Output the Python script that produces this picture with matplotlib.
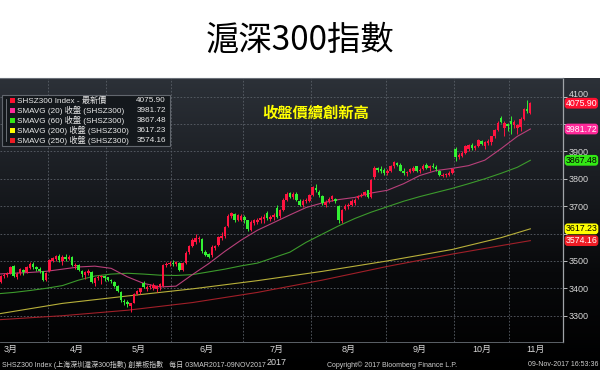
import numpy as np
import matplotlib
matplotlib.use("Agg")
import matplotlib.pyplot as plt
from matplotlib.patches import Rectangle
from matplotlib.colors import LinearSegmentedColormap
from matplotlib.transforms import ScaledTranslation

# ---------------- data ----------------
# daily OHLC, 03-Mar-2017 .. 09-Nov-2017
open_ = [
    # Mar
    3420, 3425, 3445, 3452, 3444, 3425, 3424, 3446, 3448, 3455, 3482, 3443, 3455, 3468, 3458, 3475, 3490, 3478, 3470, 3462, 3430,
    # Apr
    3462, 3500, 3508, 3518, 3500, 3515, 3506, 3515, 3482, 3485, 3464, 3450, 3456, 3460, 3420, 3436, 3440, 3445,
    # May
    3440, 3430, 3424, 3408, 3385, 3352, 3350, 3335, 3348, 3380, 3388, 3420, 3398, 3405, 3400, 3398, 3405, 3410, 3485, 3488,
    # Jun
    3494, 3490, 3492, 3468, 3492, 3532, 3555, 3570, 3580, 3580, 3532, 3525, 3520, 3548, 3560, 3585, 3590, 3628, 3665, 3672, 3650, 3650,
    # Jul
    3662, 3648, 3612, 3640, 3642, 3648, 3652, 3675, 3652, 3660, 3695, 3665, 3685, 3722, 3748, 3732, 3745, 3720, 3705, 3720, 3720,
    # Aug
    3740, 3768, 3752, 3738, 3705, 3718, 3725, 3725, 3700, 3645, 3690, 3700, 3706, 3712, 3728, 3738, 3742, 3758, 3735, 3805, 3838, 3835, 3832,
    # Sep
    3822, 3830, 3845, 3858, 3852, 3830, 3820, 3825, 3830, 3845, 3830, 3835, 3850, 3838, 3848, 3842, 3830, 3810, 3812, 3815, 3822,
    # Oct
    3910, 3880, 3885, 3895, 3908, 3925, 3912, 3918, 3938, 3918, 3930, 3935, 3955, 3978, 4022, 3985, 4000,
    # Nov
    4012, 3995, 3985, 3990, 4020, 4055, 4040,
]
high = [
    3432, 3450, 3456, 3456, 3446, 3435, 3450, 3455, 3460, 3482, 3486, 3458, 3475, 3470, 3482, 3495, 3495, 3480, 3478, 3465, 3460,
    3506, 3515, 3520, 3525, 3520, 3525, 3520, 3518, 3492, 3488, 3468, 3462, 3470, 3462, 3440, 3450, 3450, 3448,
    3442, 3435, 3428, 3412, 3390, 3362, 3358, 3348, 3382, 3395, 3402, 3425, 3412, 3415, 3418, 3412, 3420, 3488, 3495, 3500,
    3505, 3500, 3495, 3495, 3535, 3560, 3585, 3598, 3590, 3582, 3540, 3530, 3560, 3560, 3592, 3605, 3628, 3670, 3680, 3675, 3672, 3670,
    3668, 3650, 3648, 3652, 3655, 3665, 3672, 3682, 3668, 3675, 3705, 3690, 3728, 3750, 3752, 3750, 3752, 3725, 3725, 3730, 3745,
    3775, 3780, 3760, 3742, 3722, 3735, 3742, 3728, 3705, 3690, 3708, 3710, 3725, 3728, 3742, 3748, 3755, 3760, 3800, 3845, 3842, 3845, 3840,
    3835, 3850, 3865, 3862, 3856, 3838, 3830, 3840, 3845, 3848, 3838, 3855, 3856, 3852, 3858, 3852, 3832, 3822, 3822, 3828, 3840,
    3915, 3895, 3900, 3922, 3928, 3930, 3925, 3945, 3942, 3938, 3945, 3958, 3982, 4010, 4030, 4010, 4005,
    4028, 4015, 4000, 4025, 4060, 4088, 4080,
]
low = [
    3405, 3422, 3440, 3440, 3420, 3418, 3420, 3438, 3440, 3452, 3440, 3435, 3450, 3448, 3455, 3470, 3472, 3462, 3455, 3425, 3426,
    3460, 3495, 3500, 3495, 3485, 3500, 3502, 3480, 3470, 3462, 3440, 3435, 3450, 3418, 3410, 3430, 3415, 3428,
    3425, 3418, 3405, 3385, 3350, 3340, 3330, 3312, 3345, 3376, 3380, 3402, 3392, 3398, 3395, 3385, 3395, 3405, 3478, 3480,
    3482, 3482, 3462, 3465, 3490, 3525, 3550, 3562, 3568, 3530, 3518, 3510, 3515, 3540, 3555, 3578, 3582, 3625, 3655, 3642, 3645, 3645,
    3640, 3608, 3610, 3630, 3635, 3640, 3640, 3650, 3645, 3650, 3655, 3655, 3682, 3718, 3728, 3725, 3718, 3700, 3698, 3710, 3716,
    3738, 3752, 3735, 3705, 3698, 3712, 3718, 3712, 3640, 3640, 3685, 3690, 3700, 3705, 3725, 3732, 3738, 3730, 3730, 3800, 3825, 3820, 3815,
    3815, 3825, 3840, 3845, 3828, 3815, 3810, 3820, 3825, 3825, 3822, 3832, 3835, 3830, 3838, 3830, 3810, 3805, 3805, 3810, 3818,
    3865, 3872, 3878, 3890, 3902, 3905, 3905, 3915, 3922, 3910, 3922, 3925, 3950, 3975, 4002, 3955, 3975,
    3962, 3985, 3965, 3975, 4015, 4040, 4035,
]
close = [
    3427, 3446, 3453, 3447, 3426, 3426, 3446, 3449, 3457, 3478, 3445, 3454, 3472, 3460, 3479, 3489, 3478, 3469, 3463, 3430, 3456,
    3503, 3510, 3518, 3502, 3515, 3508, 3516, 3485, 3486, 3466, 3452, 3458, 3465, 3422, 3436, 3442, 3446, 3439,
    3430, 3425, 3410, 3390, 3356, 3350, 3342, 3345, 3378, 3390, 3400, 3406, 3405, 3410, 3412, 3408, 3415, 3485, 3488, 3492,
    3490, 3495, 3468, 3492, 3530, 3555, 3578, 3582, 3584, 3535, 3522, 3516, 3552, 3555, 3588, 3592, 3625, 3665, 3675, 3648, 3668, 3664,
    3650, 3615, 3642, 3648, 3650, 3655, 3660, 3656, 3662, 3668, 3662, 3685, 3722, 3745, 3732, 3745, 3722, 3706, 3720, 3722, 3740,
    3770, 3758, 3740, 3710, 3716, 3725, 3736, 3718, 3648, 3686, 3702, 3706, 3718, 3722, 3738, 3742, 3750, 3735, 3795, 3840, 3832, 3830, 3822,
    3830, 3845, 3860, 3852, 3830, 3822, 3825, 3834, 3840, 3828, 3832, 3848, 3838, 3846, 3842, 3836, 3815, 3815, 3818, 3822, 3836,
    3880, 3888, 3895, 3918, 3925, 3912, 3918, 3940, 3928, 3935, 3938, 3955, 3978, 4005, 4008, 4004, 3993,
    4000, 4008, 3998, 4020, 4056, 4048, 4075.90,
]

month_labels = ["3月", "4月", "5月", "6月", "7月", "8月", "9月", "10月", "11月"]
month_days = [21, 18, 20, 22, 21, 23, 21, 17, 7]   # trading days shown per month

# moving averages at sample days
ma_idx = [5, 10, 15, 20, 25, 30, 35, 40, 45, 50, 55, 60, 65, 70, 75, 80, 85, 90,
          95, 100, 105, 110, 115, 120, 125, 130, 135, 140, 145, 150, 155, 160, 165, 169]
ma20 = [3452, 3455, 3458, 3462, 3470, 3478, 3481, 3473, 3442, 3418, 3405, 3408, 3450, 3490,
        3535, 3576, 3612, 3640, 3668, 3695, 3712, 3724, 3732, 3748, 3758, 3782, 3812, 3830,
        3838, 3848, 3868, 3910, 3955, 3981.72]
ma60 = [3380, 3385, 3392, 3400, 3410, 3430, 3445, 3452, 3455, 3452, 3448, 3447, 3450, 3460,
        3470, 3482, 3492, 3512, 3532, 3568, 3598, 3628, 3655, 3678, 3698, 3718, 3735, 3750,
        3765, 3782, 3800, 3820, 3842, 3867.48]
ma_long_idx = [5, 25, 45, 65, 85, 105, 125, 145, 160, 169]
ma200 = [3306, 3345, 3372, 3398, 3428, 3462, 3500, 3542, 3585, 3617.23]
ma250 = [3285, 3300, 3320, 3348, 3385, 3430, 3480, 3525, 3556, 3574.16]

y_ticks = [3300, 3400, 3500, 3600, 3700, 3800, 3900, 4000, 4100]
y_tick_labels = ["3300", "3400", "3500", "", "3700", "3800", "3900", "", "4100"]

legend_names = ["SHSZ300 Index - 最新價", "SMAVG (20) 收盤 (SHSZ300)", "SMAVG (60) 收盤 (SHSZ300)",
                "SMAVG (200) 收盤 (SHSZ300)", "SMAVG (250) 收盤 (SHSZ300)"]
last_values = [4075.90, 3981.72, 3867.48, 3617.23, 3574.16]

# ---------------- styling ----------------
UP = "#ff1440"
DOWN = "#33f033"
C_MA20 = "#b8407a"
C_MA60 = "#3c9a2c"
C_MA200 = "#b8b03a"
C_MA250 = "#a01f28"
tag_face = ["#ff1030", "#ff2a9a", "#33e815", "#ffff00", "#ee1c24"]
tag_text = ["white", "white", "black", "black", "white"]
leg_sq = ["#ff1030", "#ff2a9a", "#33e815", "#ffff00", "#ee1c24"]
TXT = "#d8d8d8"
FAM = ["Liberation Sans", "Noto Sans CJK TC"]

W, H = 600, 370
fig = plt.figure(figsize=(6, 3.7), dpi=100)
fig.patch.set_facecolor("white")

def fx(x):
    return x / W

def fy(y):
    return 1 - y / H

# dark gradient panel
bg = fig.add_axes([0, 0, 1, fy(78)])
cmap = LinearSegmentedColormap.from_list("bg", ["#2c3138", "#1a1d22", "#08090b", "#000000"])
grad = np.linspace(0, 1, 256).reshape(-1, 1)
bg.imshow(grad, aspect="auto", cmap=cmap, extent=[0, 1, 0, 1])
bg.set_axis_off()
bg.set_zorder(0)

# main axes
ax = fig.add_axes([0, fy(342), fx(562.5), fy(78) - fy(342)])
ax.set_zorder(1)
ax.set_facecolor("none")

n = len(close)
xi = np.arange(n)
o = np.array(open_); c = np.array(close); h = np.array(high); l = np.array(low)
cols = np.where(c >= o, UP, DOWN)
ax.vlines(xi, l, h, colors=cols, linewidth=0.7, zorder=3)
body = np.maximum(np.abs(c - o), 3)
ax.bar(xi, body, bottom=np.minimum(o, c), width=0.72, color=cols, linewidth=0, zorder=4)

ax.plot(ma_long_idx, ma250, color=C_MA250, lw=0.8, zorder=2)
ax.plot(ma_long_idx, ma200, color=C_MA200, lw=0.8, zorder=2)
ax.plot(ma_idx, ma60, color=C_MA60, lw=0.8, zorder=2)
ax.plot(ma_idx, ma20, color=C_MA20, lw=0.8, zorder=2)

ax.set_xlim(5.8, 178.9)
ax.set_ylim(3204, 4168)

# month boundaries / labels
bounds = np.cumsum(month_days)[:-1] - 0.5
starts = np.concatenate([[-2.5], bounds])
ends = np.concatenate([bounds, [ax.get_xlim()[1]]])
centers = (starts + ends) / 2
ax.set_xticks(bounds)
ax.set_xticklabels([])
ax.set_xticks(centers, minor=True)
ax.set_xticklabels(month_labels, minor=True, family=FAM, fontsize=6.5, color=TXT)
ax.tick_params(axis="x", which="both", length=0, pad=2)
ax.text(centers[4], -0.062, "2017", transform=ax.get_xaxis_transform(), ha="center",
        va="top", fontsize=6.5, color=TXT, family=FAM)

ax.yaxis.tick_right()
ax.set_yticks(y_ticks)
ax.set_yticklabels(y_tick_labels, family=FAM)
ax.tick_params(axis="y", colors=TXT, labelsize=6.5, length=3, width=0.6, pad=1.5)
for t in ax.yaxis.get_ticklines():
    t.set_color("#a0a0a0")
# nudge the top label so it sits just above the last-price tag
top_lab = ax.yaxis.get_ticklabels()[-1]
top_lab.set_transform(top_lab.get_transform() + ScaledTranslation(0, 2.5 / 72, fig.dpi_scale_trans))

ax.grid(True, which="major", color="#5a6068", linestyle=(0, (2, 2)), linewidth=0.6)
ax.set_axisbelow(True)

ax.spines["left"].set_visible(False)
ax.spines["right"].set_color("#a0a4a8")
ax.spines["right"].set_linewidth(0.9)
ax.spines["top"].set_color("#6a7078")
ax.spines["top"].set_linewidth(0.8)
ax.spines["bottom"].set_color("#6a7078")
ax.spines["bottom"].set_linewidth(0.6)

# value tags on right axis
for val, fc, tc in zip(last_values, tag_face, tag_text):
    ax.annotate(f"{val:.2f}", xy=(1, val), xycoords=ax.get_yaxis_transform(),
                xytext=(2.2, 0), textcoords="offset points", ha="left", va="center",
                fontsize=6.3, color=tc, family=FAM, annotation_clip=False, zorder=20,
                bbox=dict(boxstyle="round,pad=0.1,rounding_size=0.35", fc=fc, ec="none"))

# legend box
fig.patches.append(Rectangle((fx(2), fy(146)), fx(168), fy(95) - fy(146), transform=fig.transFigure,
                             facecolor="#14181c", edgecolor="#62676e", linewidth=0.8, zorder=5))
fig.lines.append(plt.Line2D([fx(6), fx(6)], [fy(99), fy(141)], transform=fig.transFigure,
                            color="#7a7f86", linewidth=0.6, zorder=6))
rows = [100.5, 110.5, 120.5, 130.5, 140.5]
for y, name, val, sq in zip(rows, legend_names, last_values, leg_sq):
    fig.patches.append(Rectangle((fx(10), fy(y + 2.5)), fx(5), fy(y - 2.5) - fy(y + 2.5),
                                 transform=fig.transFigure, facecolor=sq, edgecolor="none", zorder=6))
    fig.text(fx(17), fy(y), name, ha="left", va="center", fontsize=5.9, color="#e8e8e8",
             family=FAM, zorder=7)
    fig.text(fx(166), fy(y), f"{val:.2f}", ha="right", va="center", fontsize=5.9,
             color="#e8e8e8", family=FAM, zorder=7)

# annotation
fig.text(fx(262), fy(113), "收盤價續創新高", ha="left", va="center", fontsize=11,
         fontweight="bold", color="#ffff00", family=["Noto Sans CJK TC"], zorder=7)

# title
fig.text(0.5, fy(40), "滬深300指數", ha="center", va="center", fontsize=24,
         color="black", family=["Noto Sans CJK TC"], fontweight="light")

# footer
fig.text(fx(2), fy(365), "SHSZ300 Index (上海深圳滬深300指數) 創業板指數   每日 03MAR2017-09NOV2017",
         ha="left", va="center", fontsize=5, color="#cfcfcf", family=FAM)
fig.text(fx(327), fy(365), "Copyright© 2017 Bloomberg Finance L.P.", ha="left", va="center",
         fontsize=5, color="#cfcfcf", family=FAM)
fig.text(fx(598), fy(365), "09-Nov-2017 16:53:36", ha="right", va="center", fontsize=5,
         color="#cfcfcf", family=FAM)

fig.savefig("out.png", dpi=100)
